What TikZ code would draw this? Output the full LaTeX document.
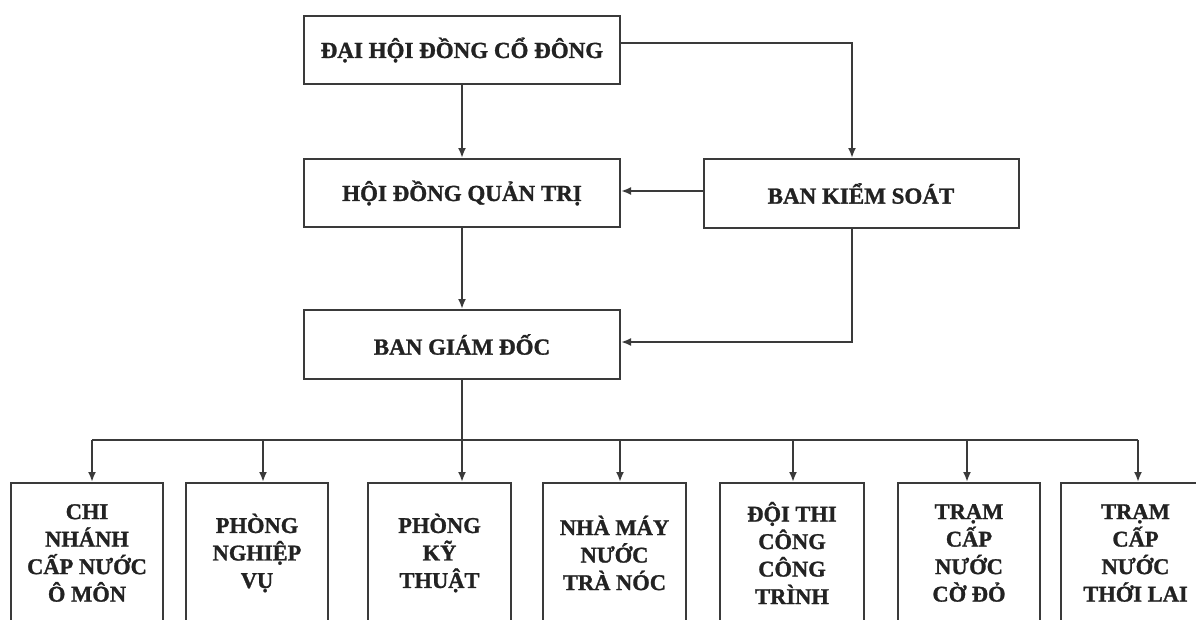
\documentclass[tikz,border=0pt]{standalone}
\usepackage{fontspec}
\setmainfont{Liberation Serif}[BoldFeatures={FakeBold=1.2}]
\usetikzlibrary{arrows.meta}
\definecolor{lc}{HTML}{3A3A3A}
\definecolor{tc}{HTML}{222222}
\begin{document}
\begin{tikzpicture}[x=1pt,y=-1pt,
  orgbox/.style={draw=lc, line width=2pt, align=center, inner sep=0pt,
    text=tc, font=\fontsize{23}{30}\selectfont\bfseries},
  lowbox/.style={orgbox, minimum height=140pt, font=\fontsize{22.5}{27.5}\selectfont\bfseries},
  arr/.style={draw=lc, line width=2pt, -{Latex[length=10pt,width=8pt]}},
  ln/.style={draw=lc, line width=2pt}]
\useasboundingbox (0,0) rectangle (1196,619);
\node[orgbox, minimum width=316pt, minimum height=68pt] (dh) at (462,50) {ĐẠI HỘI ĐỒNG CỔ ĐÔNG};
\node[orgbox, minimum width=316pt, minimum height=68pt] (hd) at (462,193) {HỘI ĐỒNG QUẢN TRỊ};
\node[orgbox, minimum width=315pt, minimum height=69pt] (bks) at (861,193.5) {BAN KIỂM SOÁT};
\node[orgbox, minimum width=316pt, minimum height=69pt] (bgd) at (462,344.5) {BAN GIÁM ĐỐC};
\node[lowbox, minimum width=152pt] (b1) at (87,553) {CHI\\NHÁNH\\CẤP NƯỚC\\Ô MÔN};
\node[lowbox, minimum width=142pt] (b2) at (257,553) {PHÒNG\\NGHIỆP\\VỤ};
\node[lowbox, minimum width=143pt] (b3) at (439.5,553) {PHÒNG\\KỸ\\THUẬT};
\node[lowbox, minimum width=143pt] (b4) at (614.5,553) {NHÀ MÁY\\NƯỚC\\TRÀ NÓC};
\node[lowbox, minimum width=144pt] (b5) at (792,553) {ĐỘI THI\\CÔNG\\CÔNG\\TRÌNH};
\node[lowbox, minimum width=142pt] (b6) at (969,553) {TRẠM\\CẤP\\NƯỚC\\CỜ ĐỎ};
\node[lowbox, minimum width=149pt] (b7) at (1135.5,553) {TRẠM\\CẤP\\NƯỚC\\THỚI LAI};
\coordinate (k1) at (852,43);
\coordinate (k2) at (852,342);
\coordinate (k3) at (700,191);
\coordinate (j1) at (92,440);
\coordinate (j2) at (263,440);
\coordinate (j3) at (462,440);
\coordinate (j4) at (620,440);
\coordinate (j5) at (793,440);
\coordinate (j6) at (967,440);
\coordinate (j7) at (1138,440);
\draw[arr] (dh.south) -- (hd.north);
\draw[arr] (dh.east |- k1) -- (k1) -- (k1 |- bks.north);
\draw[arr] (bks.west |- k3) -- (hd.east |- k3);
\draw[arr] (hd.south) -- (bgd.north);
\draw[arr] (k1 |- bks.south) -- (k2) -- (k2 -| bgd.east);
\draw[ln] (bgd.south) -- (j3);
\draw[ln] (j1) -- (j7);
\draw[arr] (j1) -- (j1 |- b1.north);
\draw[arr] (j2) -- (j2 |- b2.north);
\draw[arr] (j3) -- (j3 |- b3.north);
\draw[arr] (j4) -- (j4 |- b4.north);
\draw[arr] (j5) -- (j5 |- b5.north);
\draw[arr] (j6) -- (j6 |- b6.north);
\draw[arr] (j7) -- (j7 |- b7.north);
\end{tikzpicture}
\end{document}
